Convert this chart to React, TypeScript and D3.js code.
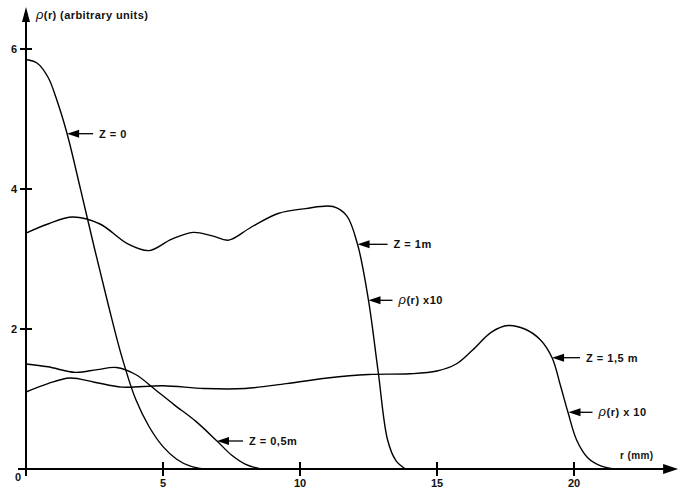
import * as d3 from "d3";

// radial profiles, r in mm
const z0R = [0, 0.4, 0.8, 1.1, 1.5, 2.0, 2.5, 3.0, 3.5, 4.0, 4.5, 5.0, 5.5, 6.0, 6.5];
const z0V = [5.85, 5.8, 5.6, 5.3, 4.79, 3.98, 3.15, 2.35, 1.6, 1.0, 0.6, 0.32, 0.14, 0.04, 0];

const z05R = [0, 0.8, 1.8, 2.6, 3.3, 4.0, 4.7, 5.4, 6.2, 6.97, 7.5, 8.0, 8.55];
const z05V = [1.5, 1.46, 1.38, 1.42, 1.45, 1.35, 1.14, 0.92, 0.68, 0.4, 0.2, 0.07, 0];

const z1R = [0, 0.8, 1.7, 2.7, 3.7, 4.5, 5.3, 6.1, 6.8, 7.4, 8.2, 9.2, 10.2, 11.2, 11.7, 12.1, 12.5, 12.85, 13.2, 13.5, 13.85];
const z1V = [3.37, 3.5, 3.6, 3.5, 3.22, 3.12, 3.28, 3.38, 3.33, 3.27, 3.45, 3.65, 3.72, 3.75, 3.62, 3.21, 2.41, 1.4, 0.41, 0.12, 0];

const z15R = [0, 0.8, 1.6, 2.5, 3.5, 5.0, 6.5, 8.0, 9.5, 11.0, 12.5, 14.0, 15.0, 15.7, 16.3, 17.0, 17.6, 18.2, 18.76, 19.2, 19.5, 19.78, 20.1, 20.5, 21.0, 21.5];
const z15V = [1.1, 1.22, 1.3, 1.24, 1.17, 1.19, 1.15, 1.15, 1.22, 1.3, 1.35, 1.36, 1.4, 1.5, 1.7, 1.96, 2.05, 2.0, 1.85, 1.59, 1.2, 0.81, 0.41, 0.16, 0.04, 0];

const xTicks = [0, 5, 10, 15, 20];
const yTicks = [2, 4, 6];

// arrow labels: point on the curve (r, value) and the text
const notes = [
  { r: 1.5, v: 4.79, text: "Z = 0", len: 26 },
  { r: 6.97, v: 0.4, text: "Z = 0,5m", len: 26 },
  { r: 12.1, v: 3.21, text: "Z = 1m", len: 30 },
  { r: 12.5, v: 2.41, text: "ρ(r) x10", len: 24 },
  { r: 19.2, v: 1.59, text: "Z = 1,5 m", len: 28 },
  { r: 19.8, v: 0.81, text: "ρ(r) x 10", len: 24 },
];

const font = "'Liberation Sans', Arial, sans-serif";

function Rho({ text }: { text: string }) {
  if (!text.startsWith("ρ")) return <>{text}</>;
  return (
    <>
      <tspan fontStyle="italic" fontSize={13} fontWeight="normal">ρ</tspan>
      {text.slice(1)}
    </>
  );
}

export default function App() {
  const width = 683;
  const height = 491;
  const x = d3.scaleLinear().domain([0, 20]).range([26, 574]);
  const y = d3.scaleLinear().domain([0, 6]).range([469, 49]);

  const line = d3
    .line<[number, number]>()
    .x((d) => x(d[0]))
    .y((d) => y(d[1]))
    .curve(d3.curveCatmullRom.alpha(0.5));

  const series = [
    [z0R, z0V],
    [z05R, z05V],
    [z1R, z1V],
    [z15R, z15V],
  ].map(([rs, vs]) => rs.map((r, i) => [r, vs[i]] as [number, number]));

  const x0 = x(0);
  const y0 = y(0);
  const xEnd = x(23.8);
  const yTop = 7;

  return (
    <svg
      width={width}
      height={height}
      style={{ position: "absolute", left: 0, top: 0, background: "#fff" }}
      fontFamily={font}
    >
      {/* axes */}
      <line x1={x0} y1={y0 + 3} x2={x0} y2={yTop + 10} stroke="#000" strokeWidth={2} />
      <path d={`M${x0},${yTop} L${x0 - 4},${yTop + 15} L${x0 + 4},${yTop + 15} Z`} fill="#000" />
      <line x1={x0 - 8} y1={y0} x2={xEnd - 10} y2={y0} stroke="#000" strokeWidth={2} />
      <path d={`M${xEnd},${y0} L${xEnd - 15},${y0 - 5} L${xEnd - 15},${y0 + 5} Z`} fill="#000" />

      {yTicks.map((t) => (
        <g key={`y${t}`}>
          <line x1={x0 - 6} x2={x0 + 6} y1={y(t)} y2={y(t)} stroke="#000" strokeWidth={2} />
          <text x={x0 - 9} y={y(t) + 4} fontSize={11} fontWeight="bold" textAnchor="end" fill="#111">
            {t}
          </text>
        </g>
      ))}
      {xTicks.map((t) => (
        <g key={`x${t}`}>
          <line x1={x(t)} x2={x(t)} y1={y0 - 7} y2={y0 + 7} stroke="#000" strokeWidth={2} />
          <text
            x={t === 0 ? x(t) - 8 : x(t)}
            y={t === 0 ? y0 + 12 : y0 + 18}
            fontSize={11}
            fontWeight="bold"
            textAnchor="middle"
            fill="#111"
          >
            {t}
          </text>
        </g>
      ))}

      <text x={36} y={19} fontSize={11} fontWeight="bold" fill="#111" letterSpacing={0.4}>
        <Rho text="ρ(r) (arbitrary units)" />
      </text>
      <text x={620} y={459} fontSize={10} fontWeight="bold" fill="#111" letterSpacing={0.4}>
        r (mm)
      </text>

      {/* curves */}
      {series.map((pts, i) => (
        <path key={i} d={line(pts) ?? ""} fill="none" stroke="#000" strokeWidth={1.4} />
      ))}

      {/* annotations */}
      {notes.map((n, i) => {
        const px = x(n.r);
        const py = y(n.v);
        return (
          <g key={i}>
            <path d={`M${px},${py} L${px + 12},${py - 4} L${px + 12},${py + 4} Z`} fill="#000" />
            <line x1={px + 10} x2={px + n.len} y1={py} y2={py} stroke="#000" strokeWidth={1.3} />
            <text x={px + n.len + 6} y={py + 4} fontSize={11} fontWeight="bold" fill="#111" letterSpacing={0.5}>
              <Rho text={n.text} />
            </text>
          </g>
        );
      })}
    </svg>
  );
}
